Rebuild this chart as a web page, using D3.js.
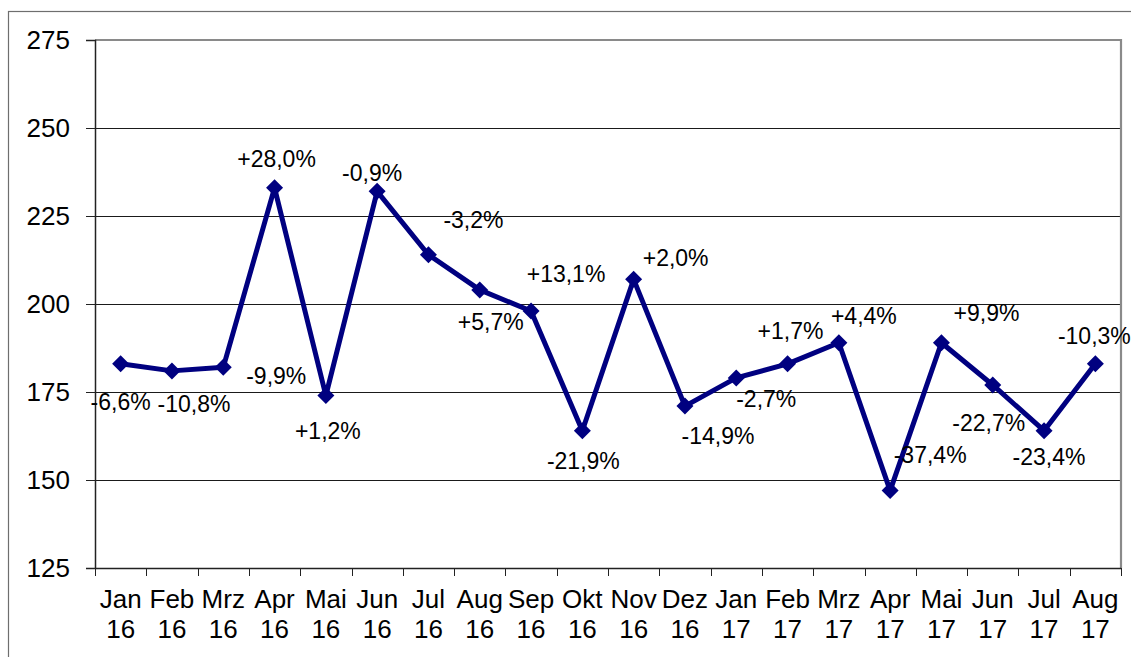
<!DOCTYPE html>
<html lang="de">
<head>
<meta charset="UTF-8">
<title>Monatswerte</title>
<script src="https://d3js.org/d3.v7.min.js"></script>
<style>
    body { margin: 0; background: #fff; }
    svg { display: block; font-family: "Liberation Sans", Arial, sans-serif; }
</style>
</head>
<body>
<div id="chart"></div>
<script>
// data
const months = ["Jan", "Feb", "Mrz", "Apr", "Mai", "Jun", "Jul", "Aug", "Sep", "Okt", "Nov", "Dez",
                "Jan", "Feb", "Mrz", "Apr", "Mai", "Jun", "Jul", "Aug"];
const years = ["16", "16", "16", "16", "16", "16", "16", "16", "16", "16", "16", "16",
               "17", "17", "17", "17", "17", "17", "17", "17"];
const values = [183, 181, 182, 233, 174, 232, 214, 204, 198, 164, 207, 171,
                179, 183, 189, 147, 189, 177, 164, 183];
const changes = ["-6,6%", "-10,8%", "-9,9%", "+28,0%", "+1,2%", "-0,9%", "-3,2%", "+5,7%", "+13,1%", "-21,9%", "+2,0%", "-14,9%",
                 "-2,7%", "+1,7%", "+4,4%", "-37,4%", "+9,9%", "-22,7%", "-23,4%", "-10,3%"];
const yTicks = [125, 150, 175, 200, 225, 250, 275];

// where each label sits relative to its point (px)
const labelShift = [[0, 38], [22, 33], [53, 8], [2, -29], [2, 35], [-5, -19], [45, -35], [11, 32], [35, -37], [1, 30],
                    [42, -22], [33, 30], [30, 21], [3, -33], [25, -27], [40, -36], [45, -30], [-4, 38], [5, 26], [-1, -28]];

const W = 1131, H = 657;
const margin = { top: 40, right: 10, bottom: 89, left: 95 };
const plotW = W - margin.left - margin.right;   // 1026
const plotH = H - margin.top - margin.bottom;   // 528

const svg = d3.select("#chart").append("svg")
    .attr("width", W)
    .attr("height", H);

svg.append("rect")
    .attr("width", W).attr("height", H)
    .attr("fill", "#fff");

// outer frame (runs off the right and bottom edge)
svg.append("rect")
    .attr("x", 8.5).attr("y", 11.5)
    .attr("width", W + 20).attr("height", H + 20)
    .attr("fill", "none")
    .attr("stroke", "#6e6e6e")
    .attr("stroke-width", 1.2);

const g = svg.append("g").attr("transform", `translate(${margin.left},${margin.top})`);

const keys = months.map((m, i) => i);
const x = d3.scaleBand().domain(keys).range([0, plotW]).padding(0);
const y = d3.scaleLinear().domain([125, 275]).range([plotH, 0]);

// gridlines
g.append("g")
    .selectAll("line")
    .data(yTicks.filter(t => t > 125 && t < 275))
    .join("line")
    .attr("x1", 0).attr("x2", plotW)
    .attr("y1", d => Math.round(y(d)) + 0.5)
    .attr("y2", d => Math.round(y(d)) + 0.5)
    .attr("stroke", "#1a1a1a")
    .attr("stroke-width", 1);

// plot border top/right in grey
g.append("path")
    .attr("d", `M0,${y(275)}H${plotW}V${plotH}`)
    .attr("fill", "none")
    .attr("stroke", "#8a8a8a")
    .attr("stroke-width", 2.2);

// y axis
const yAxis = g.append("g")
    .call(d3.axisLeft(y).tickValues(yTicks).tickSize(9).tickPadding(16).tickFormat(d3.format("d")));
yAxis.select(".domain").attr("stroke", "#222").attr("stroke-width", 1.5);
yAxis.selectAll(".tick line").attr("stroke", "#222");
yAxis.selectAll("text")
    .attr("font-size", 26)
    .attr("font-family", "Liberation Sans, Arial, sans-serif")
    .attr("fill", "#000");

// x axis: ticks on the category boundaries
const bounds = keys.map(k => x(k)).concat([plotW]);
g.append("line")
    .attr("x1", 0).attr("x2", plotW)
    .attr("y1", plotH + 0.5).attr("y2", plotH + 0.5)
    .attr("stroke", "#222").attr("stroke-width", 1.5);
g.append("g")
    .selectAll("line")
    .data(bounds)
    .join("line")
    .attr("x1", d => Math.round(d) + 0.5).attr("x2", d => Math.round(d) + 0.5)
    .attr("y1", plotH).attr("y2", plotH + 8)
    .attr("stroke", "#222");

const xLabels = g.append("g")
    .selectAll("text")
    .data(keys)
    .join("text")
    .attr("x", d => x(d) + x.bandwidth() / 2)
    .attr("text-anchor", "middle")
    .attr("font-size", 26)
    .attr("fill", "#000");
xLabels.append("tspan")
    .attr("x", d => x(d) + x.bandwidth() / 2)
    .attr("y", plotH + 40)
    .text(d => months[d]);
xLabels.append("tspan")
    .attr("x", d => x(d) + x.bandwidth() / 2)
    .attr("y", plotH + 70)
    .text(d => years[d]);

// line + markers
const px = i => x(i) + x.bandwidth() / 2;
const line = d3.line()
    .x(i => px(i))
    .y(i => y(values[i]));

g.append("path")
    .datum(keys)
    .attr("d", line)
    .attr("fill", "none")
    .attr("stroke", "#000080")
    .attr("stroke-width", 5)
    .attr("stroke-linejoin", "round");

g.append("g")
    .selectAll("path")
    .data(keys)
    .join("path")
    .attr("transform", i => `translate(${px(i)},${y(values[i])})`)
    .attr("d", "M0,-8.5L8.5,0L0,8.5L-8.5,0Z")
    .attr("fill", "#000080");

// percent labels
g.append("g")
    .selectAll("text")
    .data(keys)
    .join("text")
    .attr("x", i => px(i) + labelShift[i][0])
    .attr("y", i => y(values[i]) + labelShift[i][1])
    .attr("dy", "0.36em")
    .attr("text-anchor", "middle")
    .attr("font-size", 23)
    .attr("fill", "#000")
    .text(i => changes[i]);
</script>
</body>
</html>
